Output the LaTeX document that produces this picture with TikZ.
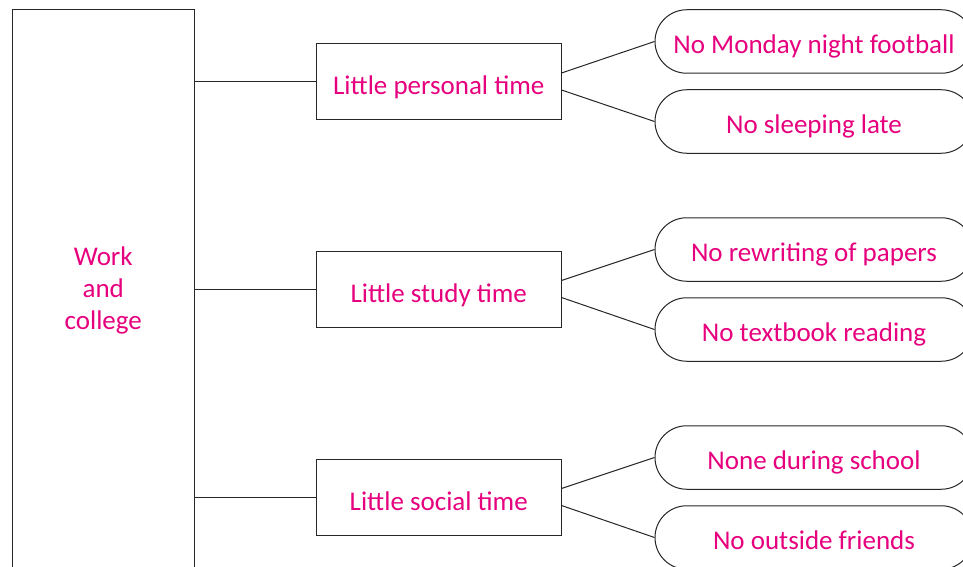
\documentclass[tikz,border=0pt]{standalone}
\usepackage{fontspec}
\setmainfont{Carlito}
\usetikzlibrary{shapes.misc}
\definecolor{inkpink}{HTML}{E6007E}
\tikzset{
    frame/.style={draw=black!85, line width=1pt, text=inkpink, font=\fontsize{27}{32}\selectfont},
    causebox/.style={frame, rectangle, minimum width=244.5pt, minimum height=76pt, inner sep=0pt, text height=30pt, text depth=4pt},
    effectbox/.style={frame, rounded rectangle, minimum width=318pt, minimum height=63.5pt, inner sep=0pt, text height=28pt, text depth=4pt},
    link/.style={draw=black!85, line width=1pt}
}
\begin{document}
\begin{tikzpicture}[x=1pt,y=-1pt]
    \clip (0,0) rectangle (963,567);
    \useasboundingbox (0,0) rectangle (963,567);
    % main block
    \node[frame, rectangle, minimum width=181.5pt, minimum height=561pt, align=center, inner sep=0pt]
        (work) at (103.25,290) {Work\\and\\college};
    % middle column
    \node[causebox] (personal) at (438.75,81.5) {Little personal time};
    \node[causebox] (study) at (438.75,289) {Little study time};
    \node[causebox] (social) at (438.75,497) {Little social time};
    % right column
    \node[effectbox] (football) at (814,41.5) {No Monday night football};
    \node[effectbox] (sleep) at (814,121.5) {No sleeping late};
    \node[effectbox] (papers) at (814,249.5) {No rewriting of papers};
    \node[effectbox] (textbook) at (814,329.5) {No textbook reading};
    \node[effectbox] (school) at (814,457.5) {None during school};
    \node[effectbox] (friends) at (814,537.5) {No outside friends};
    % connectors
    \foreach \mid/\up/\down in {personal/football/sleep, study/papers/textbook, social/school/friends} {
        \draw[link] (work.east |- \mid.west) -- (\mid.west);
        \draw[link] ([yshift=8.5pt]\mid.east) -- (\up.west);
        \draw[link] ([yshift=-8.5pt]\mid.east) -- (\down.west);
    }
\end{tikzpicture}
\end{document}
